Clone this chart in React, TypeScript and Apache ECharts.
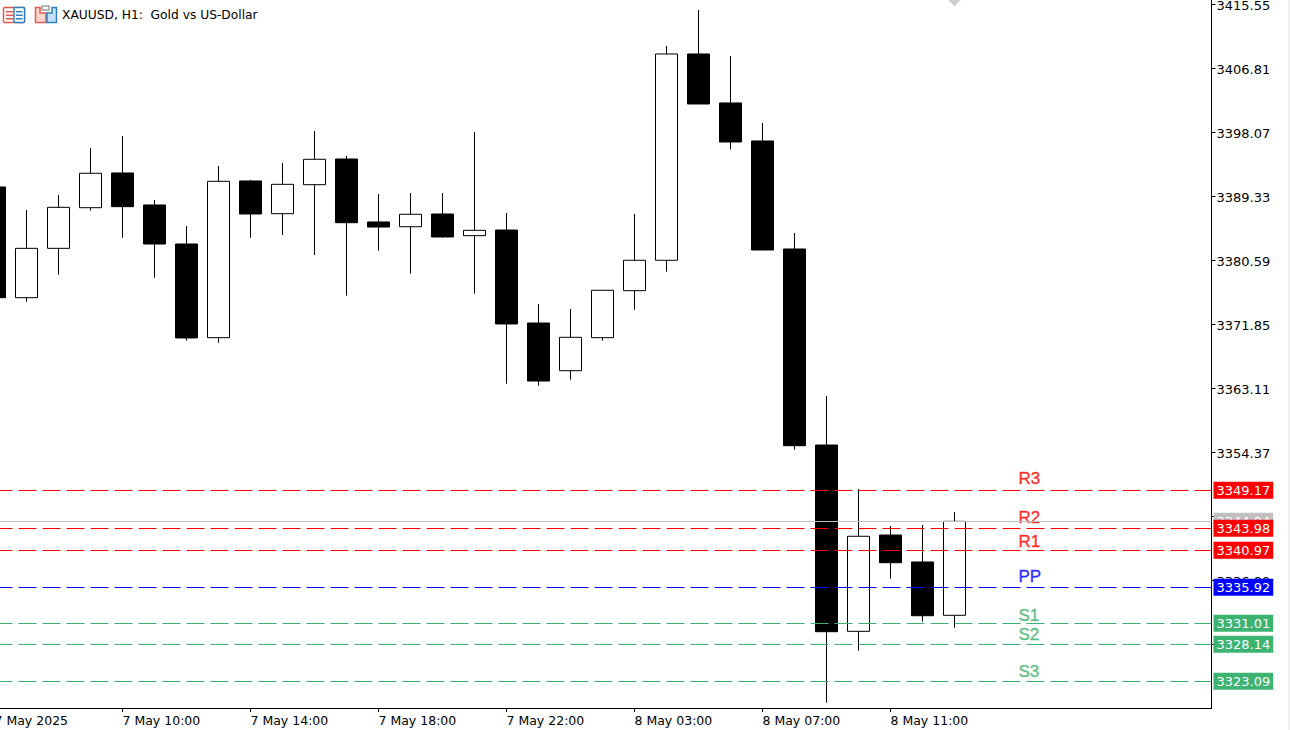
import { useEffect, useRef } from 'react'
import * as echarts from 'echarts'

const FONT = '"DejaVu Sans", Tahoma, sans-serif'

// one row per hour: open, close, low, high
const opens = [
  3390.59, 3375.47, 3382.21, 3387.76, 3392.5, 3388.13, 3382.8, 3370.01, 3391.41, 3386.94, 3390.9,
  3394.41, 3385.81, 3385.16, 3386.9, 3383.94, 3384.71, 3372.01, 3365.5, 3370.01, 3376.43, 3380.58,
  3408.75, 3402.06, 3396.87, 3382.12, 3355.35, 3329.91, 3343.06, 3339.38, 3332.1,
]
const closes = [
  3375.47, 3382.21, 3387.81, 3392.46, 3387.9, 3382.8, 3369.97, 3391.36, 3386.9, 3390.95, 3394.37,
  3385.71, 3385.12, 3386.86, 3383.76, 3384.67, 3371.88, 3364.09, 3370.06, 3376.48, 3380.58, 3408.75,
  3401.92, 3396.73, 3381.98, 3355.26, 3329.86, 3342.89, 3339.28, 3332.04, 3344.93,
]
const lows = [
  3375.15, 3374.92, 3378.61, 3387.35, 3383.66, 3378.2, 3369.6, 3369.32, 3383.66, 3384.03, 3381.3,
  3375.74, 3381.89, 3378.75, 3383.66, 3376.02, 3363.72, 3363.45, 3364.27, 3369.6, 3373.83, 3379.02,
  3401.92, 3395.71, 3381.98, 3354.71, 3320.16, 3327.26, 3337.1, 3331.22, 3330.4,
]
const highs = [
  3391.54, 3387.44, 3389.49, 3395.91, 3397.55, 3388.81, 3385.26, 3393.45, 3391.54, 3393.86, 3398.23,
  3394.82, 3389.63, 3389.77, 3389.77, 3398.1, 3387.04, 3374.61, 3373.93, 3376.52, 3386.9, 3409.84,
  3414.76, 3408.48, 3399.33, 3384.3, 3362.05, 3349.34, 3344.29, 3344.43, 3346.2,
]

const timeTicks = [0, 4, 8, 12, 16, 20, 24, 28]
const timeLabels = [
  '7 May 2025',
  '7 May 10:00',
  '7 May 14:00',
  '7 May 18:00',
  '7 May 22:00',
  '8 May 03:00',
  '8 May 07:00',
  '8 May 11:00',
]
const priceTicks = [
  3415.55, 3406.81, 3398.07, 3389.33, 3380.59, 3371.85, 3363.11, 3354.37, 3345.63, 3336.89, 3328.15,
]

const levelNames = ['R3', 'R2', 'R1', 'PP', 'S1', 'S2', 'S3']
const levelPrices = [3349.17, 3343.98, 3340.97, 3335.92, 3331.01, 3328.14, 3323.09]
const levelTextPrices = [3350.78, 3345.45, 3342.18, 3337.4, 3332.07, 3329.41, 3324.42]
const levelColors = ['#ff0000', '#ff0000', '#ff0000', '#0000ff', '#3cb371', '#3cb371', '#3cb371']

const lastPrice = 3344.94
const levelTextIndex = 32
const markerIndex = 30

function priceBox(color: string) {
  return {
    show: true,
    position: 'end' as const,
    distance: 2,
    formatter: (p: { value: number }) => p.value.toFixed(2),
    color: '#ffffff',
    backgroundColor: color,
    fontFamily: FONT,
    fontSize: 13,
    lineHeight: 13,
    padding: [2, 3, 2, 3],
  }
}

export default function App() {
  const ref = useRef<HTMLDivElement>(null)

  useEffect(() => {
    if (!ref.current) return
    const chart = echarts.init(ref.current, undefined, { renderer: 'svg' })

    const option: echarts.EChartsOption = {
      animation: false,
      backgroundColor: '#ffffff',
      // left is one half-hidden candle past the page edge, so index 0 sits off screen
      grid: { left: -5.5, width: 1217, top: -0.8, height: 708.8, outerBoundsMode: 'none' },
      xAxis: {
        type: 'value',
        min: 0,
        max: 38.03125,
        splitLine: { show: false },
        axisLine: { onZero: false, lineStyle: { color: '#000', width: 1 } },
        axisTick: { customValues: timeTicks, length: 4, lineStyle: { color: '#000' } },
        axisLabel: {
          customValues: timeTicks,
          align: 'left',
          margin: 6,
          color: '#000',
          fontFamily: FONT,
          fontSize: 12.5,
          formatter: (v: number) => timeLabels[timeTicks.indexOf(v)] ?? '',
        },
      },
      yAxis: {
        type: 'value',
        position: 'right',
        min: 3319.44,
        max: 3416.23,
        splitLine: { show: false },
        axisLine: { show: true, onZero: false, lineStyle: { color: '#000', width: 1 } },
        axisTick: { show: true, customValues: priceTicks, length: 4, lineStyle: { color: '#000' } },
        axisLabel: {
          customValues: priceTicks,
          margin: 5,
          // top-aligned with a short line box: text sits a pixel under the tick, as in MT5
          verticalAlign: 'top',
          lineHeight: 2,
          color: '#000',
          fontFamily: FONT,
          fontSize: 13,
          formatter: (v: number) => v.toFixed(2),
        },
      },
      series: [
        {
          type: 'line',
          data: [],
          z: 1,
          markLine: {
            silent: true,
            symbol: 'none',
            animation: false,
            lineStyle: { color: '#c0c0c0', type: 'solid', width: 1 },
            label: priceBox('#c0c0c0'),
            data: [{ yAxis: lastPrice }],
          },
        },
        {
          type: 'candlestick',
          z: 2,
          barWidth: 23,
          clip: true,
          itemStyle: {
            color: '#ffffff',
            color0: '#000000',
            borderColor: '#000000',
            borderColor0: '#000000',
            borderWidth: 1,
          },
          data: opens.map((o, i) => [i, o, closes[i], lows[i], highs[i]]),
        },
        {
          type: 'line',
          data: [],
          z: 3,
          markLine: {
            silent: true,
            symbol: 'none',
            animation: false,
            data: levelPrices.map((p, i) => ({
              yAxis: p,
              lineStyle: { color: levelColors[i], type: [18, 6], width: 1 },
              label: priceBox(levelColors[i]),
            })),
          },
        },
        {
          type: 'scatter',
          z: 4,
          silent: true,
          symbolSize: 0,
          data: levelNames.map((n, i) => ({
            name: n,
            value: [levelTextIndex, levelTextPrices[i]],
            label: {
              show: true,
              position: 'right',
              distance: 0,
              formatter: n,
              color: levelColors[i],
              textBorderColor: levelColors[i],
              textBorderWidth: 0.4,
              fontFamily: 'Liberation Sans, Arial, sans-serif',
              fontSize: 17,
            },
          })),
        },
        {
          type: 'scatter',
          z: 4,
          silent: true,
          symbol: 'diamond',
          symbolSize: 14,
          itemStyle: { color: '#c0c0c0' },
          data: [[markerIndex, 3416.23]],
        },
      ],
      graphic: [
        // symbol list icon
        { type: 'rect', shape: { x: 3.5, y: 7.5, width: 21, height: 15, r: 1 }, style: { fill: '#fff', stroke: '#e05a50', lineWidth: 1.5 } },
        { type: 'rect', shape: { x: 14, y: 7.5, width: 10.5, height: 15, r: 1 }, style: { fill: '#fff', stroke: '#2f7fc1', lineWidth: 1.5 } },
        { type: 'rect', shape: { x: 6, y: 11, width: 7, height: 1.5 }, style: { fill: '#e05a50' } },
        { type: 'rect', shape: { x: 6, y: 14.5, width: 7, height: 1.5 }, style: { fill: '#e05a50' } },
        { type: 'rect', shape: { x: 6, y: 18, width: 7, height: 1.5 }, style: { fill: '#e05a50' } },
        { type: 'rect', shape: { x: 16, y: 11, width: 6.5, height: 1.5 }, style: { fill: '#2f7fc1' } },
        { type: 'rect', shape: { x: 16, y: 14.5, width: 6.5, height: 1.5 }, style: { fill: '#2f7fc1' } },
        { type: 'rect', shape: { x: 16, y: 18, width: 6.5, height: 1.5 }, style: { fill: '#2f7fc1' } },
        // template icon
        { type: 'polygon', shape: { points: [[35.5, 7.5], [40, 7.5], [40, 13], [46, 13], [46, 22.5], [35.5, 22.5]] }, style: { fill: '#fcd5cc', stroke: '#e05a50', lineWidth: 1.5 } },
        { type: 'polygon', shape: { points: [[50, 13], [52, 13], [52, 7.5], [56.5, 7.5], [56.5, 22.5], [47, 22.5], [47, 13]] }, style: { fill: '#c5e1f5', stroke: '#2f7fc1', lineWidth: 1.5 } },
        { type: 'rect', shape: { x: 42, y: 6, width: 7, height: 4 }, style: { fill: '#fff', stroke: '#a0a0a0', lineWidth: 1.5 } },
        {
          type: 'text',
          x: 62,
          y: 15,
          style: {
            text: 'XAUUSD, H1:  Gold vs US-Dollar',
            fill: '#000',
            font: `12.25px ${FONT}`,
            textVerticalAlign: 'middle',
          },
        },
        // sliver of window frame at the right edge
        { type: 'rect', shape: { x: 1288, y: 0, width: 2, height: 730 }, style: { fill: '#f0f0f0' } },
      ],
    }

    chart.setOption(option)
    return () => chart.dispose()
  }, [])

  return (
    <div
      ref={ref}
      style={{ position: 'fixed', left: 0, top: 0, width: 1290, height: 730 }}
    />
  )
}
